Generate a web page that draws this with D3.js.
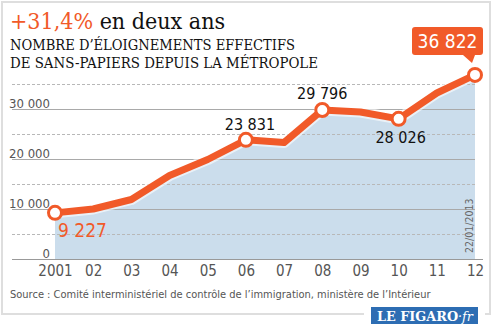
<!DOCTYPE html>
<html>
<head>
<meta charset="utf-8">
<script src="https://cdn.jsdelivr.net/npm/d3@7"></script>
<style>
  body { margin: 0; background: #fff; }
  svg { display: block; }
</style>
</head>
<body>
<div id="chart"></div>
<script>
const years = ['2001', '02', '03', '04', '05', '06', '07', '08', '09', '10', '11', '12'];
const values = [9227, 10000, 11900, 16700, 19900, 23831, 23300, 29796, 29400, 28026, 33200, 36822];
// points that carry a circle and a value label
const marked = ['2001', '06', '08', '10', '12'];
const yTicks = [0, 10000, 20000, 30000];
const yMinor = [5000, 15000, 25000, 35000];

const W = 495, H = 328;
const orange = '#f15a29';
const sans = "'DejaVu Sans Condensed', 'DejaVu Sans', sans-serif";
const serif = "'DejaVu Serif Condensed', 'DejaVu Serif', serif";

const svg = d3.select('#chart').append('svg')
  .attr('width', W)
  .attr('height', H);

// frame
svg.append('rect')
  .attr('x', 2).attr('y', 2)
  .attr('width', 488).attr('height', 312)
  .attr('fill', '#fff')
  .attr('stroke', '#dedede')
  .attr('stroke-width', 2);

// titles
const title = svg.append('text')
  .attr('x', 10).attr('y', 29)
  .attr('font-family', serif)
  .attr('font-size', 23);
title.append('tspan').attr('fill', orange).text('+31,4%');
title.append('tspan').attr('fill', '#111').text(' en deux ans');

svg.append('text')
  .attr('x', 10).attr('y', 50)
  .attr('font-family', serif).attr('font-size', 14)
  .attr('fill', '#111')
  .attr('textLength', 285).attr('lengthAdjust', 'spacingAndGlyphs')
  .text('NOMBRE D\u2019ÉLOIGNEMENTS EFFECTIFS');

svg.append('text')
  .attr('x', 10).attr('y', 68)
  .attr('font-family', serif).attr('font-size', 14)
  .attr('fill', '#111')
  .attr('textLength', 308).attr('lengthAdjust', 'spacingAndGlyphs')
  .text('DE SANS-PAPIERS DEPUIS LA MÉTROPOLE');

// scales
const x = d3.scalePoint().domain(years).range([55, 475]);
const y = d3.scaleLinear().domain([0, 35000]).range([259, 84]);

const data = years.map((yr, i) => ({ year: yr, value: values[i] }));

// area
const area = d3.area()
  .x(d => x(d.year))
  .y0(y(0))
  .y1(d => y(d.value));

svg.append('path')
  .datum(data)
  .attr('d', area)
  .attr('fill', '#cbddec');

// grid
svg.append('g')
  .selectAll('line')
  .data(yMinor)
  .join('line')
  .attr('x1', 12).attr('x2', 475)
  .attr('y1', d => y(d) + 0.5).attr('y2', d => y(d) + 0.5)
  .attr('stroke', '#b8b8b8')
  .attr('stroke-dasharray', '3,2');

svg.append('g')
  .selectAll('line')
  .data(yTicks.filter(d => d > 0))
  .join('line')
  .attr('x1', 12).attr('x2', 475)
  .attr('y1', d => y(d) + 0.5).attr('y2', d => y(d) + 0.5)
  .attr('stroke', '#a9a9a9');

svg.append('line')
  .attr('x1', 12).attr('x2', 483)
  .attr('y1', y(0) + 0.5).attr('y2', y(0) + 0.5)
  .attr('stroke', '#999');

// y labels
const yAxis = svg.append('g')
  .attr('transform', 'translate(50,-6)')
  .call(d3.axisLeft(y).tickValues(yTicks).tickSize(0).tickPadding(0)
    .tickFormat(d => d3.format(',')(d).replace(/,/g, ' ')));
yAxis.select('.domain').remove();
yAxis.selectAll('text')
  .attr('font-family', sans).attr('font-size', 13)
  .attr('fill', '#555');

// x labels
const xAxis = svg.append('g')
  .attr('transform', `translate(0,${y(0) + 6})`)
  .call(d3.axisBottom(x).tickSize(0).tickPadding(0));
xAxis.select('.domain').remove();
xAxis.selectAll('text')
  .attr('font-family', sans).attr('font-size', 15)
  .attr('fill', '#555');

// date
svg.append('text')
  .attr('transform', `translate(473,${y(0) - 6}) rotate(-90)`)
  .attr('font-family', sans).attr('font-size', 10.5)
  .attr('fill', '#666')
  .text('22/01/2013');

// line
const line = d3.line()
  .x(d => x(d.year))
  .y(d => y(d.value));

svg.append('path')
  .datum(data)
  .attr('d', line)
  .attr('fill', 'none')
  .attr('stroke', '#fff')
  .attr('stroke-opacity', 0.6)
  .attr('stroke-width', 11)
  .attr('stroke-linejoin', 'round');

svg.append('path')
  .datum(data)
  .attr('d', line)
  .attr('fill', 'none')
  .attr('stroke', orange)
  .attr('stroke-width', 7)
  .attr('stroke-linejoin', 'round');

const pts = data.filter(d => marked.includes(d.year));
svg.append('g')
  .selectAll('circle')
  .data(pts)
  .join('circle')
  .attr('cx', d => x(d.year))
  .attr('cy', d => y(d.value))
  .attr('r', 6.5)
  .attr('fill', '#fff')
  .attr('stroke', orange)
  .attr('stroke-width', 3);

// value labels
const fmt = v => d3.format(',')(v).replace(/,/g, ' ');
const labelPos = {
  '2001': { dx: 3, dy: 24, anchor: 'start', fill: orange, size: 19 },
  '06': { dx: 4, dy: -10, anchor: 'middle', fill: '#111', size: 16 },
  '08': { dx: 0, dy: -11, anchor: 'middle', fill: '#111', size: 16 },
  '10': { dx: 2, dy: 24, anchor: 'middle', fill: '#111', size: 16 }
};
svg.append('g')
  .selectAll('text')
  .data(pts.filter(d => labelPos[d.year]))
  .join('text')
  .attr('x', d => x(d.year) + labelPos[d.year].dx)
  .attr('y', d => y(d.value) + labelPos[d.year].dy)
  .attr('text-anchor', d => labelPos[d.year].anchor)
  .attr('font-family', sans)
  .attr('font-size', d => labelPos[d.year].size)
  .attr('fill', d => labelPos[d.year].fill)
  .text(d => fmt(d.value));

// callout for last value
const last = data[data.length - 1];
const lx = x(last.year), ly = y(last.value);
const bx0 = lx - 63, bx1 = lx + 8, by0 = ly - 48, by1 = ly - 20;
svg.append('path')
  .attr('d', `M${bx0 + 3},${by0} H${bx1 - 3} Q${bx1},${by0} ${bx1},${by0 + 3} V${by1 - 3} Q${bx1},${by1} ${bx1 - 3},${by1}
    H${lx} L${lx - 3},${by1 + 8} L${lx - 12},${by1} H${bx0 + 3} Q${bx0},${by1} ${bx0},${by1 - 3} V${by0 + 3} Q${bx0},${by0} ${bx0 + 3},${by0} Z`)
  .attr('fill', orange);
svg.append('text')
  .attr('x', (bx0 + bx1) / 2).attr('y', by1 - 7)
  .attr('text-anchor', 'middle')
  .attr('font-family', sans).attr('font-size', 19)
  .attr('fill', '#fff')
  .text(fmt(last.value));

// source
svg.append('text')
  .attr('x', 10).attr('y', 298)
  .attr('font-family', sans).attr('font-size', 11)
  .attr('fill', '#555')
  .text('Source : Comité interministériel de contrôle de l\u2019immigration, ministère de l\u2019Intérieur');

// logo
svg.append('rect')
  .attr('x', 364).attr('y', 305)
  .attr('width', 121).attr('height', 23)
  .attr('fill', '#fff');
svg.append('rect')
  .attr('x', 371).attr('y', 307)
  .attr('width', 107).attr('height', 17)
  .attr('fill', '#2d6db3');
const logo = svg.append('text')
  .attr('x', 377).attr('y', 320.5)
  .attr('font-family', "'DejaVu Serif', serif")
  .attr('font-weight', 'bold')
  .attr('font-size', 13)
  .attr('fill', '#fff')
  .attr('textLength', 96).attr('lengthAdjust', 'spacingAndGlyphs');
logo.append('tspan').text('LE FIGARO');
logo.append('tspan').attr('font-style', 'italic').attr('font-weight', 'normal').text('\u00b7fr');
</script>
</body>
</html>
